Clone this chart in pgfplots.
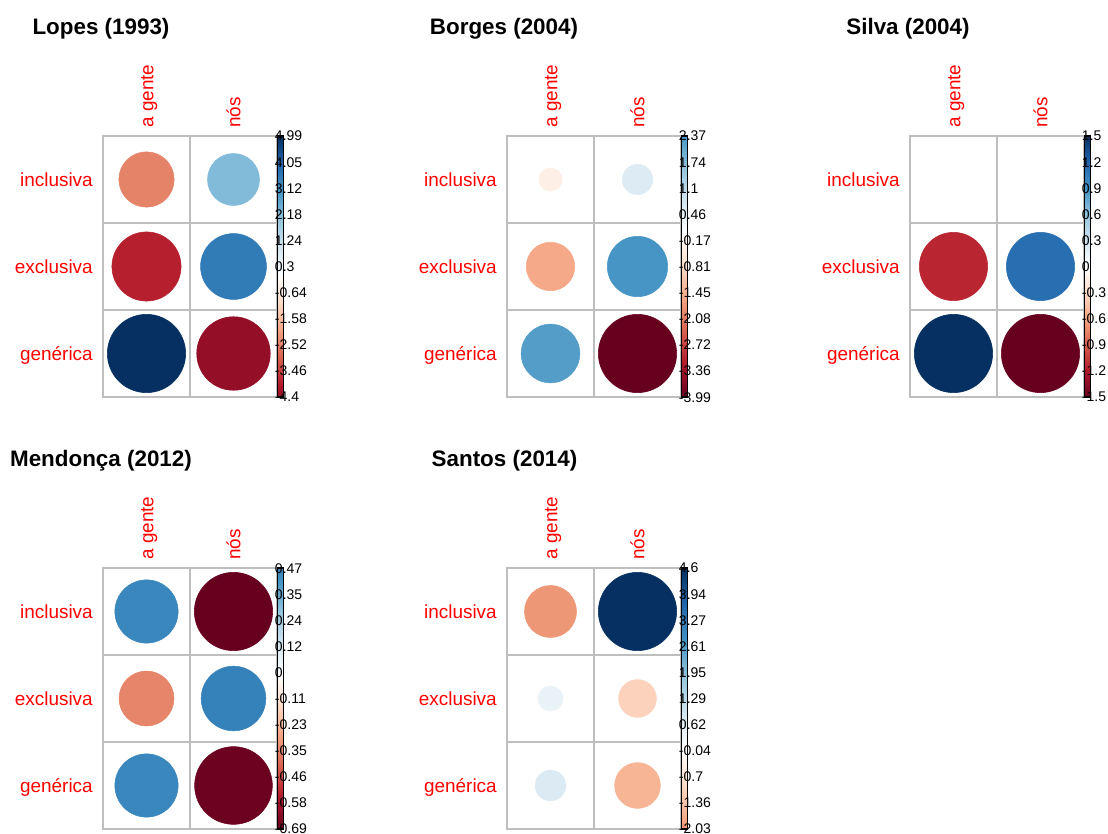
\documentclass[border=0pt]{standalone}
\usepackage{fontspec}
\setmainfont{Liberation Sans}
\usepackage{pgfplots}
\usepackage{pgfplotstable}
\pgfplotsset{compat=1.18}

\definecolor{gridgray}{RGB}{190,190,190}
\definecolor{labred}{RGB}{255,0,0}
\newcommand\labfont{\fontsize{14.2}{17}\selectfont}
\newcommand\cbfont{\fontsize{10.5}{12}\selectfont}
\newcommand\titfont{\fontsize{16.8}{20}\selectfont\bfseries}

% cells: 2 columns (a gente, nos) x 3 rows; x/y are cell centres
\pgfplotstableread{
x   y   v
0.5 2.5 -2.49
1.5 2.5  2.20
0.5 1.5 -3.89
1.5 1.5  3.53
0.5 0.5  4.99
1.5 0.5 -4.40
}\lopes
\pgfplotstableread{
x   y   v
0.5 2.5 -0.35
1.5 2.5  0.60
0.5 1.5 -1.53
1.5 1.5  2.37
0.5 0.5  2.24
1.5 0.5 -3.99
}\borges
\pgfplotstableread{
x   y   v
0.5 2.5  0.00
1.5 2.5  0.00
0.5 1.5 -1.14
1.5 1.5  1.14
0.5 0.5  1.50
1.5 0.5 -1.50
}\silva
\pgfplotstableread{
x   y   v
0.5 2.5  0.45
1.5 2.5 -0.69
0.5 1.5 -0.34
1.5 1.5  0.47
0.5 0.5  0.45
1.5 0.5 -0.68
}\mendonca
\pgfplotstableread{
x   y   v
0.5 2.5 -2.03
1.5 2.5  4.60
0.5 1.5  0.47
1.5 1.5 -1.07
0.5 0.5  0.71
1.5 0.5 -1.57
}\santos

\pgfplotsset{
  colormap={rdbu}{rgb255=(103,0,31) rgb255=(178,24,43) rgb255=(214,96,77)
    rgb255=(244,165,130) rgb255=(253,219,199) rgb255=(255,255,255)
    rgb255=(209,229,240) rgb255=(146,197,222) rgb255=(67,147,195)
    rgb255=(33,102,172) rgb255=(5,48,97)},
  corr/.style={
    scale only axis, width=130.5pt, height=195.75pt, anchor=north west,
    xmin=0, xmax=2, ymin=0, ymax=3, clip=false,
    xtick={0.5,1.5}, ytick={0.5,1.5,2.5},
    xticklabels={a gente, nós},
    yticklabels={genérica, exclusiva, inclusiva},
    xticklabel pos=upper,
    minor xtick={1}, minor ytick={1,2}, grid=minor,
    minor grid style={gridgray, line width=1.5pt},
    axis line style={gridgray, line width=1.5pt},
    major tick length=0pt, minor tick length=0pt,
    xticklabel style={rotate=90, anchor=west, inner sep=0pt, text=labred,
      font=\labfont, text height=10.2pt, text depth=0pt},
    yticklabel style={anchor=east, inner sep=0pt, text=labred,
      font=\labfont, text height=10.2pt, text depth=0pt},
    xticklabel shift=6pt, yticklabel shift=7.5pt,
    colormap name=rdbu,
    colorbar,
  },
  cbar/.style={
    at={(parent axis.north east)}, anchor=north west, xshift=-8pt,
    scale only axis, width=4.5pt, height=195.75pt,
    yticklabel pos=left, major tick length=0pt,
    axis line style={black, line width=1pt},
    yticklabel style={anchor=west, inner sep=0pt, font=\cbfont,
      text height=7.5pt, text depth=0pt},
    yticklabel shift=2.25pt,
  },
  % circle area proportional to |v| / max|v|, as in a corrplot
  circles/.style={
    scatter, only marks, mark=*, point meta=\thisrow{v},
    scatter/use mapped color={draw=mapped color, fill=mapped color},
    visualization depends on={0.45*sqrt(abs(\thisrow{v})/#1)*65.25 \as \rad},
    scatter/@pre marker code/.append style={/tikz/mark size=\rad pt},
  },
}

\begin{document}
\begin{tikzpicture}
\path[use as bounding box] (0,0) rectangle (831pt,-625.5pt);

% Lopes (1993)
\begin{axis}[corr, at={(77.25pt,-102pt)},
  point meta min=-4.99, point meta max=4.99,
  colorbar style={cbar, ymin=-4.4, ymax=4.99,
    ytick={-4.4,-3.461,-2.522,-1.583,-0.644,0.295,1.234,2.173,3.112,4.051,4.99},
    yticklabels={-4.4,-3.46,-2.52,-1.58,-0.64,0.3,1.24,2.18,3.12,4.05,4.99}}]
\addplot[circles=4.99] table {\lopes};
\end{axis}

% Borges (2004)
\begin{axis}[corr, at={(380.25pt,-102pt)},
  point meta min=-3.99, point meta max=3.99,
  colorbar style={cbar, ymin=-3.99, ymax=2.37,
    ytick={-3.99,-3.354,-2.718,-2.082,-1.446,-0.81,-0.174,0.462,1.098,1.734,2.37},
    yticklabels={-3.99,-3.36,-2.72,-2.08,-1.45,-0.81,-0.17,0.46,1.1,1.74,2.37}}]
\addplot[circles=3.99] table {\borges};
\end{axis}

% Silva (2004)
\begin{axis}[corr, at={(682.5pt,-102pt)},
  point meta min=-1.5, point meta max=1.5,
  colorbar style={cbar, ymin=-1.5, ymax=1.5,
    ytick={-1.5,-1.2,-0.9,-0.6,-0.3,0,0.3,0.6,0.9,1.2,1.5},
    yticklabels={-1.5,-1.2,-0.9,-0.6,-0.3,0,0.3,0.6,0.9,1.2,1.5}}]
\addplot[circles=1.5] table {\silva};
\end{axis}

% Mendonca (2012)
\begin{axis}[corr, at={(77.25pt,-426pt)},
  point meta min=-0.69, point meta max=0.69,
  colorbar style={cbar, ymin=-0.69, ymax=0.47,
    ytick={-0.69,-0.574,-0.458,-0.342,-0.226,-0.11,0.006,0.122,0.238,0.354,0.47},
    yticklabels={-0.69,-0.58,-0.46,-0.35,-0.23,-0.11,0,0.12,0.24,0.35,0.47}}]
\addplot[circles=0.69] table {\mendonca};
\end{axis}

% Santos (2014)
\begin{axis}[corr, at={(380.25pt,-426pt)},
  point meta min=-4.6, point meta max=4.6,
  colorbar style={cbar, ymin=-2.03, ymax=4.6,
    ytick={-2.03,-1.367,-0.704,-0.041,0.622,1.285,1.948,2.611,3.274,3.937,4.6},
    yticklabels={-2.03,-1.36,-0.7,-0.04,0.62,1.29,1.95,2.61,3.27,3.94,4.6}}]
\addplot[circles=4.6] table {\santos};
\end{axis}

\node[anchor=base, font=\titfont] at (75.75pt,-26.25pt) {Lopes (1993)};
\node[anchor=base, font=\titfont] at (378pt,-26.25pt) {Borges (2004)};
\node[anchor=base, font=\titfont] at (681pt,-26.25pt) {Silva (2004)};
\node[anchor=base, font=\titfont] at (75.75pt,-350.25pt) {Mendonça (2012)};
\node[anchor=base, font=\titfont] at (378.4pt,-350.25pt) {Santos (2014)};
\end{tikzpicture}
\end{document}
